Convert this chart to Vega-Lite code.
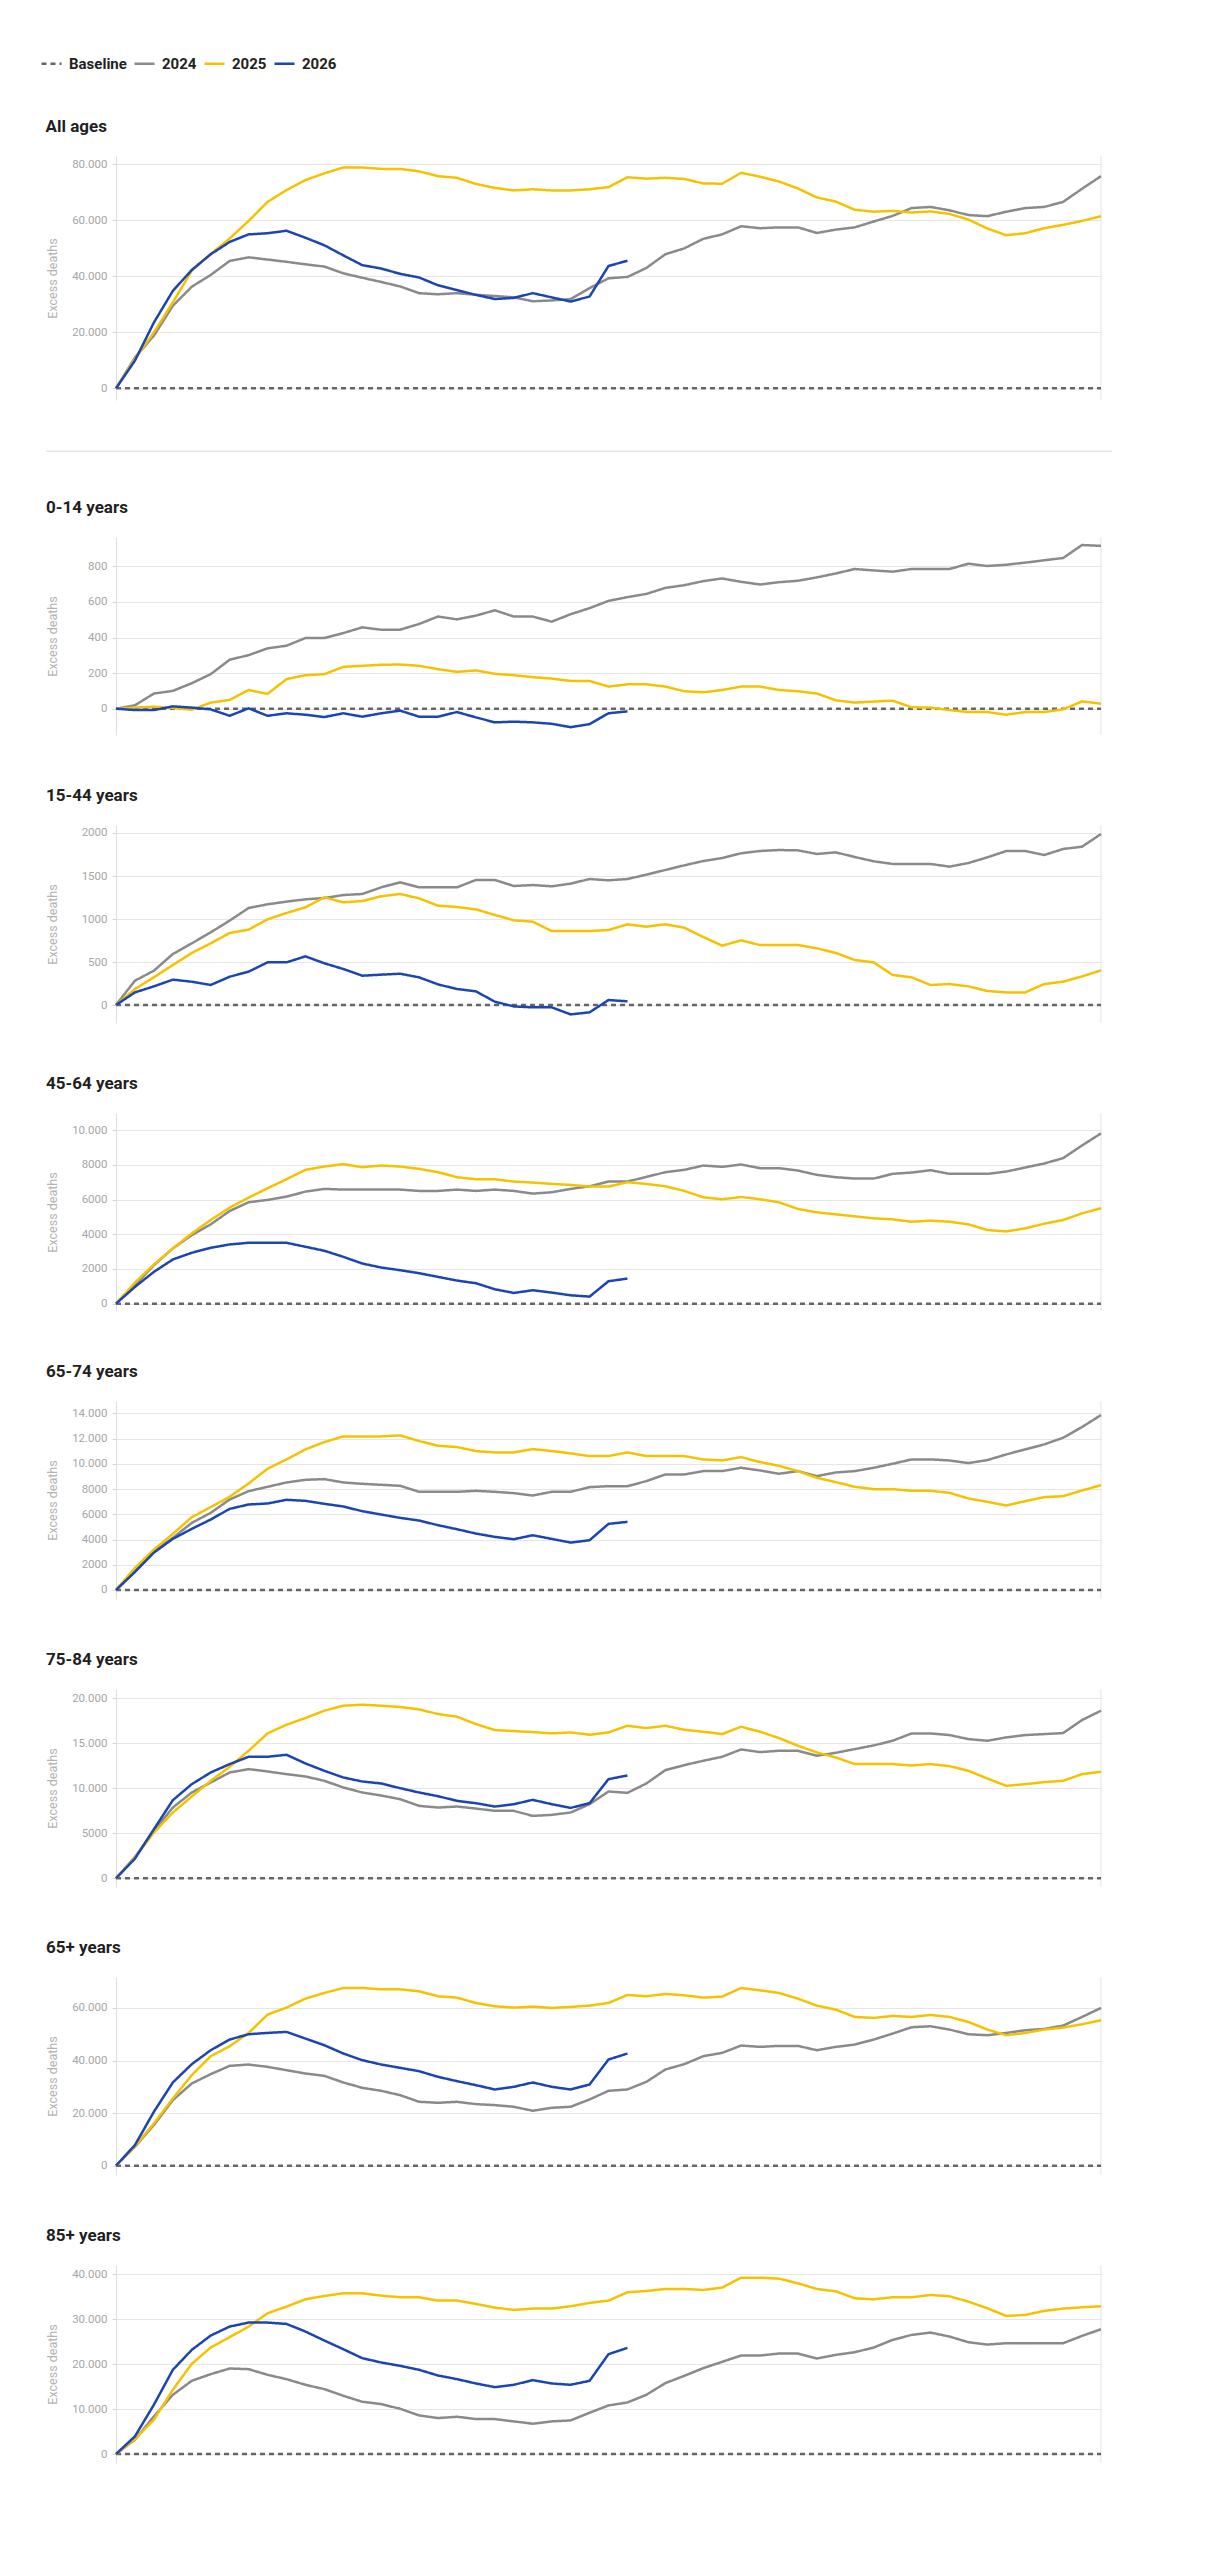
{
  "$schema": "https://vega.github.io/schema/vega-lite/v6.json",
  "background": "white",
  "padding": {"left": 40, "top": 52, "right": 10, "bottom": 10},
  "spacing": 45,
  "config": {
    "font": "Roboto",
    "view": {"stroke": null},
    "title": {"anchor": "start", "frame": "bounds", "fontSize": 17, "fontWeight": "bold", "color": "#1f1f1f", "offset": 20},
    "axis": {"labelColor": "#a6a6a6", "labelFontSize": 11.5, "tickColor": "#d6d6d6", "domainColor": "#dedede", "gridColor": "#e6e6e6", "titleColor": "#b3b3b3", "titleFontWeight": "normal", "titleFontSize": 12.5},
    "axisX": {"grid": false, "tickSize": 5, "labelPadding": 3},
    "axisY": {"tickSize": 4, "labelPadding": 5},
    "line": {"strokeWidth": 2.5},
    "legend": {"orient": "none", "legendX": -76, "legendY": -104, "direction": "horizontal", "title": null, "symbolType": "stroke", "symbolSize": 400, "symbolStrokeWidth": 4, "labelFontSize": 15, "labelFontWeight": "bold", "labelColor": "#222222", "labelOffset": 6, "columnPadding": 2}
  },
  "resolve": {"scale": {"x": "independent", "y": "independent", "color": "shared", "strokeDash": "shared"}, "legend": {"color": "shared", "strokeDash": "shared"}},
  "datasets": {
    "all": [
      {"yr":"Baseline","wk":0,"n":0},{"yr":"Baseline","wk":52,"n":0},
      {"yr":"2024","wk":0,"n":0},{"yr":"2024","wk":1,"n":11000},{"yr":"2024","wk":2,"n":18800},{"yr":"2024","wk":3,"n":29500},{"yr":"2024","wk":4,"n":36300},{"yr":"2024","wk":5,"n":40500},{"yr":"2024","wk":6,"n":45500},{"yr":"2024","wk":7,"n":46800},{"yr":"2024","wk":8,"n":46000},{"yr":"2024","wk":9,"n":45200},{"yr":"2024","wk":10,"n":44300},{"yr":"2024","wk":11,"n":43500},{"yr":"2024","wk":12,"n":41100},{"yr":"2024","wk":13,"n":39500},{"yr":"2024","wk":14,"n":38000},{"yr":"2024","wk":15,"n":36400},{"yr":"2024","wk":16,"n":34000},{"yr":"2024","wk":17,"n":33600},{"yr":"2024","wk":18,"n":34000},{"yr":"2024","wk":19,"n":33400},{"yr":"2024","wk":20,"n":33000},{"yr":"2024","wk":21,"n":32500},{"yr":"2024","wk":22,"n":31100},{"yr":"2024","wk":23,"n":31400},{"yr":"2024","wk":24,"n":31900},{"yr":"2024","wk":25,"n":35800},{"yr":"2024","wk":26,"n":39300},{"yr":"2024","wk":27,"n":39800},{"yr":"2024","wk":28,"n":43000},{"yr":"2024","wk":29,"n":47900},{"yr":"2024","wk":30,"n":50000},{"yr":"2024","wk":31,"n":53400},{"yr":"2024","wk":32,"n":55000},{"yr":"2024","wk":33,"n":57900},{"yr":"2024","wk":34,"n":57200},{"yr":"2024","wk":35,"n":57500},{"yr":"2024","wk":36,"n":57500},{"yr":"2024","wk":37,"n":55500},{"yr":"2024","wk":38,"n":56700},{"yr":"2024","wk":39,"n":57500},{"yr":"2024","wk":40,"n":59600},{"yr":"2024","wk":41,"n":61600},{"yr":"2024","wk":42,"n":64400},{"yr":"2024","wk":43,"n":64800},{"yr":"2024","wk":44,"n":63600},{"yr":"2024","wk":45,"n":61900},{"yr":"2024","wk":46,"n":61500},{"yr":"2024","wk":47,"n":63100},{"yr":"2024","wk":48,"n":64400},{"yr":"2024","wk":49,"n":64800},{"yr":"2024","wk":50,"n":66600},{"yr":"2024","wk":51,"n":71300},{"yr":"2024","wk":52,"n":75800},
      {"yr":"2025","wk":0,"n":0},{"yr":"2025","wk":1,"n":10500},{"yr":"2025","wk":2,"n":20000},{"yr":"2025","wk":3,"n":30700},{"yr":"2025","wk":4,"n":42000},{"yr":"2025","wk":5,"n":48000},{"yr":"2025","wk":6,"n":53500},{"yr":"2025","wk":7,"n":59800},{"yr":"2025","wk":8,"n":66600},{"yr":"2025","wk":9,"n":70800},{"yr":"2025","wk":10,"n":74400},{"yr":"2025","wk":11,"n":76800},{"yr":"2025","wk":12,"n":78900},{"yr":"2025","wk":13,"n":78900},{"yr":"2025","wk":14,"n":78400},{"yr":"2025","wk":15,"n":78400},{"yr":"2025","wk":16,"n":77500},{"yr":"2025","wk":17,"n":75800},{"yr":"2025","wk":18,"n":75200},{"yr":"2025","wk":19,"n":73000},{"yr":"2025","wk":20,"n":71600},{"yr":"2025","wk":21,"n":70700},{"yr":"2025","wk":22,"n":71100},{"yr":"2025","wk":23,"n":70700},{"yr":"2025","wk":24,"n":70700},{"yr":"2025","wk":25,"n":71100},{"yr":"2025","wk":26,"n":71900},{"yr":"2025","wk":27,"n":75400},{"yr":"2025","wk":28,"n":74900},{"yr":"2025","wk":29,"n":75200},{"yr":"2025","wk":30,"n":74800},{"yr":"2025","wk":31,"n":73200},{"yr":"2025","wk":32,"n":73100},{"yr":"2025","wk":33,"n":77000},{"yr":"2025","wk":34,"n":75600},{"yr":"2025","wk":35,"n":73900},{"yr":"2025","wk":36,"n":71400},{"yr":"2025","wk":37,"n":68200},{"yr":"2025","wk":38,"n":66700},{"yr":"2025","wk":39,"n":63800},{"yr":"2025","wk":40,"n":63100},{"yr":"2025","wk":41,"n":63400},{"yr":"2025","wk":42,"n":62800},{"yr":"2025","wk":43,"n":63200},{"yr":"2025","wk":44,"n":62300},{"yr":"2025","wk":45,"n":60300},{"yr":"2025","wk":46,"n":57100},{"yr":"2025","wk":47,"n":54700},{"yr":"2025","wk":48,"n":55400},{"yr":"2025","wk":49,"n":57200},{"yr":"2025","wk":50,"n":58400},{"yr":"2025","wk":51,"n":59800},{"yr":"2025","wk":52,"n":61500},
      {"yr":"2026","wk":0,"n":0},{"yr":"2026","wk":1,"n":9900},{"yr":"2026","wk":2,"n":23500},{"yr":"2026","wk":3,"n":34800},{"yr":"2026","wk":4,"n":42300},{"yr":"2026","wk":5,"n":47900},{"yr":"2026","wk":6,"n":52300},{"yr":"2026","wk":7,"n":55000},{"yr":"2026","wk":8,"n":55400},{"yr":"2026","wk":9,"n":56300},{"yr":"2026","wk":10,"n":53800},{"yr":"2026","wk":11,"n":51100},{"yr":"2026","wk":12,"n":47500},{"yr":"2026","wk":13,"n":44000},{"yr":"2026","wk":14,"n":42800},{"yr":"2026","wk":15,"n":40900},{"yr":"2026","wk":16,"n":39600},{"yr":"2026","wk":17,"n":36800},{"yr":"2026","wk":18,"n":35100},{"yr":"2026","wk":19,"n":33400},{"yr":"2026","wk":20,"n":31900},{"yr":"2026","wk":21,"n":32300},{"yr":"2026","wk":22,"n":34000},{"yr":"2026","wk":23,"n":32500},{"yr":"2026","wk":24,"n":31000},{"yr":"2026","wk":25,"n":32800},{"yr":"2026","wk":26,"n":43700},{"yr":"2026","wk":27,"n":45600}
    ],
    "a0": [
      {"yr":"Baseline","wk":0,"n":0},{"yr":"Baseline","wk":52,"n":0},
      {"yr":"2024","wk":0,"n":0},{"yr":"2024","wk":1,"n":19},{"yr":"2024","wk":2,"n":85},{"yr":"2024","wk":3,"n":100},{"yr":"2024","wk":4,"n":143},{"yr":"2024","wk":5,"n":194},{"yr":"2024","wk":6,"n":275},{"yr":"2024","wk":7,"n":301},{"yr":"2024","wk":8,"n":339},{"yr":"2024","wk":9,"n":354},{"yr":"2024","wk":10,"n":397},{"yr":"2024","wk":11,"n":397},{"yr":"2024","wk":12,"n":425},{"yr":"2024","wk":13,"n":457},{"yr":"2024","wk":14,"n":444},{"yr":"2024","wk":15,"n":444},{"yr":"2024","wk":16,"n":476},{"yr":"2024","wk":17,"n":518},{"yr":"2024","wk":18,"n":502},{"yr":"2024","wk":19,"n":523},{"yr":"2024","wk":20,"n":553},{"yr":"2024","wk":21,"n":518},{"yr":"2024","wk":22,"n":518},{"yr":"2024","wk":23,"n":489},{"yr":"2024","wk":24,"n":531},{"yr":"2024","wk":25,"n":565},{"yr":"2024","wk":26,"n":606},{"yr":"2024","wk":27,"n":627},{"yr":"2024","wk":28,"n":645},{"yr":"2024","wk":29,"n":679},{"yr":"2024","wk":30,"n":694},{"yr":"2024","wk":31,"n":717},{"yr":"2024","wk":32,"n":732},{"yr":"2024","wk":33,"n":713},{"yr":"2024","wk":34,"n":698},{"yr":"2024","wk":35,"n":711},{"yr":"2024","wk":36,"n":719},{"yr":"2024","wk":37,"n":738},{"yr":"2024","wk":38,"n":760},{"yr":"2024","wk":39,"n":785},{"yr":"2024","wk":40,"n":777},{"yr":"2024","wk":41,"n":770},{"yr":"2024","wk":42,"n":785},{"yr":"2024","wk":43,"n":785},{"yr":"2024","wk":44,"n":785},{"yr":"2024","wk":45,"n":815},{"yr":"2024","wk":46,"n":802},{"yr":"2024","wk":47,"n":809},{"yr":"2024","wk":48,"n":821},{"yr":"2024","wk":49,"n":834},{"yr":"2024","wk":50,"n":847},{"yr":"2024","wk":51,"n":920},{"yr":"2024","wk":52,"n":915},
      {"yr":"2025","wk":0,"n":0},{"yr":"2025","wk":1,"n":6},{"yr":"2025","wk":2,"n":11},{"yr":"2025","wk":3,"n":4},{"yr":"2025","wk":4,"n":-6},{"yr":"2025","wk":5,"n":34},{"yr":"2025","wk":6,"n":49},{"yr":"2025","wk":7,"n":105},{"yr":"2025","wk":8,"n":83},{"yr":"2025","wk":9,"n":166},{"yr":"2025","wk":10,"n":188},{"yr":"2025","wk":11,"n":194},{"yr":"2025","wk":12,"n":235},{"yr":"2025","wk":13,"n":241},{"yr":"2025","wk":14,"n":247},{"yr":"2025","wk":15,"n":248},{"yr":"2025","wk":16,"n":241},{"yr":"2025","wk":17,"n":222},{"yr":"2025","wk":18,"n":207},{"yr":"2025","wk":19,"n":215},{"yr":"2025","wk":20,"n":196},{"yr":"2025","wk":21,"n":188},{"yr":"2025","wk":22,"n":177},{"yr":"2025","wk":23,"n":169},{"yr":"2025","wk":24,"n":156},{"yr":"2025","wk":25,"n":156},{"yr":"2025","wk":26,"n":124},{"yr":"2025","wk":27,"n":137},{"yr":"2025","wk":28,"n":137},{"yr":"2025","wk":29,"n":124},{"yr":"2025","wk":30,"n":98},{"yr":"2025","wk":31,"n":92},{"yr":"2025","wk":32,"n":105},{"yr":"2025","wk":33,"n":124},{"yr":"2025","wk":34,"n":124},{"yr":"2025","wk":35,"n":105},{"yr":"2025","wk":36,"n":98},{"yr":"2025","wk":37,"n":85},{"yr":"2025","wk":38,"n":47},{"yr":"2025","wk":39,"n":34},{"yr":"2025","wk":40,"n":40},{"yr":"2025","wk":41,"n":45},{"yr":"2025","wk":42,"n":8},{"yr":"2025","wk":43,"n":6},{"yr":"2025","wk":44,"n":-8},{"yr":"2025","wk":45,"n":-19},{"yr":"2025","wk":46,"n":-19},{"yr":"2025","wk":47,"n":-34},{"yr":"2025","wk":48,"n":-19},{"yr":"2025","wk":49,"n":-19},{"yr":"2025","wk":50,"n":-4},{"yr":"2025","wk":51,"n":41},{"yr":"2025","wk":52,"n":28},
      {"yr":"2026","wk":0,"n":0},{"yr":"2026","wk":1,"n":-8},{"yr":"2026","wk":2,"n":-8},{"yr":"2026","wk":3,"n":13},{"yr":"2026","wk":4,"n":6},{"yr":"2026","wk":5,"n":-4},{"yr":"2026","wk":6,"n":-40},{"yr":"2026","wk":7,"n":2},{"yr":"2026","wk":8,"n":-40},{"yr":"2026","wk":9,"n":-26},{"yr":"2026","wk":10,"n":-34},{"yr":"2026","wk":11,"n":-47},{"yr":"2026","wk":12,"n":-26},{"yr":"2026","wk":13,"n":-45},{"yr":"2026","wk":14,"n":-26},{"yr":"2026","wk":15,"n":-11},{"yr":"2026","wk":16,"n":-45},{"yr":"2026","wk":17,"n":-45},{"yr":"2026","wk":18,"n":-19},{"yr":"2026","wk":19,"n":-49},{"yr":"2026","wk":20,"n":-77},{"yr":"2026","wk":21,"n":-73},{"yr":"2026","wk":22,"n":-77},{"yr":"2026","wk":23,"n":-85},{"yr":"2026","wk":24,"n":-104},{"yr":"2026","wk":25,"n":-87},{"yr":"2026","wk":26,"n":-26},{"yr":"2026","wk":27,"n":-15}
    ],
    "a15": [
      {"yr":"Baseline","wk":0,"n":0},{"yr":"Baseline","wk":52,"n":0},
      {"yr":"2024","wk":0,"n":0},{"yr":"2024","wk":1,"n":283},{"yr":"2024","wk":2,"n":399},{"yr":"2024","wk":3,"n":593},{"yr":"2024","wk":4,"n":717},{"yr":"2024","wk":5,"n":845},{"yr":"2024","wk":6,"n":981},{"yr":"2024","wk":7,"n":1128},{"yr":"2024","wk":8,"n":1171},{"yr":"2024","wk":9,"n":1202},{"yr":"2024","wk":10,"n":1229},{"yr":"2024","wk":11,"n":1244},{"yr":"2024","wk":12,"n":1279},{"yr":"2024","wk":13,"n":1291},{"yr":"2024","wk":14,"n":1368},{"yr":"2024","wk":15,"n":1426},{"yr":"2024","wk":16,"n":1368},{"yr":"2024","wk":17,"n":1368},{"yr":"2024","wk":18,"n":1368},{"yr":"2024","wk":19,"n":1454},{"yr":"2024","wk":20,"n":1454},{"yr":"2024","wk":21,"n":1384},{"yr":"2024","wk":22,"n":1395},{"yr":"2024","wk":23,"n":1380},{"yr":"2024","wk":24,"n":1411},{"yr":"2024","wk":25,"n":1465},{"yr":"2024","wk":26,"n":1450},{"yr":"2024","wk":27,"n":1465},{"yr":"2024","wk":28,"n":1516},{"yr":"2024","wk":29,"n":1570},{"yr":"2024","wk":30,"n":1624},{"yr":"2024","wk":31,"n":1674},{"yr":"2024","wk":32,"n":1709},{"yr":"2024","wk":33,"n":1764},{"yr":"2024","wk":34,"n":1791},{"yr":"2024","wk":35,"n":1802},{"yr":"2024","wk":36,"n":1798},{"yr":"2024","wk":37,"n":1756},{"yr":"2024","wk":38,"n":1775},{"yr":"2024","wk":39,"n":1721},{"yr":"2024","wk":40,"n":1671},{"yr":"2024","wk":41,"n":1640},{"yr":"2024","wk":42,"n":1640},{"yr":"2024","wk":43,"n":1640},{"yr":"2024","wk":44,"n":1609},{"yr":"2024","wk":45,"n":1651},{"yr":"2024","wk":46,"n":1717},{"yr":"2024","wk":47,"n":1791},{"yr":"2024","wk":48,"n":1791},{"yr":"2024","wk":49,"n":1744},{"yr":"2024","wk":50,"n":1814},{"yr":"2024","wk":51,"n":1841},{"yr":"2024","wk":52,"n":1988},
      {"yr":"2025","wk":0,"n":0},{"yr":"2025","wk":1,"n":186},{"yr":"2025","wk":2,"n":322},{"yr":"2025","wk":3,"n":465},{"yr":"2025","wk":4,"n":605},{"yr":"2025","wk":5,"n":717},{"yr":"2025","wk":6,"n":837},{"yr":"2025","wk":7,"n":876},{"yr":"2025","wk":8,"n":996},{"yr":"2025","wk":9,"n":1070},{"yr":"2025","wk":10,"n":1136},{"yr":"2025","wk":11,"n":1252},{"yr":"2025","wk":12,"n":1194},{"yr":"2025","wk":13,"n":1209},{"yr":"2025","wk":14,"n":1264},{"yr":"2025","wk":15,"n":1291},{"yr":"2025","wk":16,"n":1240},{"yr":"2025","wk":17,"n":1155},{"yr":"2025","wk":18,"n":1140},{"yr":"2025","wk":19,"n":1112},{"yr":"2025","wk":20,"n":1047},{"yr":"2025","wk":21,"n":985},{"yr":"2025","wk":22,"n":969},{"yr":"2025","wk":23,"n":860},{"yr":"2025","wk":24,"n":860},{"yr":"2025","wk":25,"n":860},{"yr":"2025","wk":26,"n":872},{"yr":"2025","wk":27,"n":938},{"yr":"2025","wk":28,"n":911},{"yr":"2025","wk":29,"n":938},{"yr":"2025","wk":30,"n":899},{"yr":"2025","wk":31,"n":791},{"yr":"2025","wk":32,"n":690},{"yr":"2025","wk":33,"n":752},{"yr":"2025","wk":34,"n":698},{"yr":"2025","wk":35,"n":698},{"yr":"2025","wk":36,"n":698},{"yr":"2025","wk":37,"n":659},{"yr":"2025","wk":38,"n":605},{"yr":"2025","wk":39,"n":523},{"yr":"2025","wk":40,"n":496},{"yr":"2025","wk":41,"n":349},{"yr":"2025","wk":42,"n":322},{"yr":"2025","wk":43,"n":233},{"yr":"2025","wk":44,"n":244},{"yr":"2025","wk":45,"n":217},{"yr":"2025","wk":46,"n":163},{"yr":"2025","wk":47,"n":147},{"yr":"2025","wk":48,"n":147},{"yr":"2025","wk":49,"n":244},{"yr":"2025","wk":50,"n":271},{"yr":"2025","wk":51,"n":333},{"yr":"2025","wk":52,"n":403},
      {"yr":"2026","wk":0,"n":0},{"yr":"2026","wk":1,"n":147},{"yr":"2026","wk":2,"n":217},{"yr":"2026","wk":3,"n":295},{"yr":"2026","wk":4,"n":271},{"yr":"2026","wk":5,"n":233},{"yr":"2026","wk":6,"n":329},{"yr":"2026","wk":7,"n":388},{"yr":"2026","wk":8,"n":496},{"yr":"2026","wk":9,"n":496},{"yr":"2026","wk":10,"n":566},{"yr":"2026","wk":11,"n":485},{"yr":"2026","wk":12,"n":419},{"yr":"2026","wk":13,"n":341},{"yr":"2026","wk":14,"n":353},{"yr":"2026","wk":15,"n":364},{"yr":"2026","wk":16,"n":322},{"yr":"2026","wk":17,"n":240},{"yr":"2026","wk":18,"n":186},{"yr":"2026","wk":19,"n":159},{"yr":"2026","wk":20,"n":39},{"yr":"2026","wk":21,"n":-16},{"yr":"2026","wk":22,"n":-27},{"yr":"2026","wk":23,"n":-27},{"yr":"2026","wk":24,"n":-109},{"yr":"2026","wk":25,"n":-85},{"yr":"2026","wk":26,"n":58},{"yr":"2026","wk":27,"n":43}
    ],
    "a45": [
      {"yr":"Baseline","wk":0,"n":0},{"yr":"Baseline","wk":52,"n":0},
      {"yr":"2024","wk":0,"n":0},{"yr":"2024","wk":1,"n":1060},{"yr":"2024","wk":2,"n":2216},{"yr":"2024","wk":3,"n":3180},{"yr":"2024","wk":4,"n":3950},{"yr":"2024","wk":5,"n":4567},{"yr":"2024","wk":6,"n":5338},{"yr":"2024","wk":7,"n":5839},{"yr":"2024","wk":8,"n":5974},{"yr":"2024","wk":9,"n":6166},{"yr":"2024","wk":10,"n":6455},{"yr":"2024","wk":11,"n":6610},{"yr":"2024","wk":12,"n":6571},{"yr":"2024","wk":13,"n":6571},{"yr":"2024","wk":14,"n":6571},{"yr":"2024","wk":15,"n":6571},{"yr":"2024","wk":16,"n":6494},{"yr":"2024","wk":17,"n":6494},{"yr":"2024","wk":18,"n":6571},{"yr":"2024","wk":19,"n":6494},{"yr":"2024","wk":20,"n":6571},{"yr":"2024","wk":21,"n":6494},{"yr":"2024","wk":22,"n":6340},{"yr":"2024","wk":23,"n":6417},{"yr":"2024","wk":24,"n":6610},{"yr":"2024","wk":25,"n":6764},{"yr":"2024","wk":26,"n":7034},{"yr":"2024","wk":27,"n":7034},{"yr":"2024","wk":28,"n":7303},{"yr":"2024","wk":29,"n":7573},{"yr":"2024","wk":30,"n":7708},{"yr":"2024","wk":31,"n":7958},{"yr":"2024","wk":32,"n":7881},{"yr":"2024","wk":33,"n":8016},{"yr":"2024","wk":34,"n":7804},{"yr":"2024","wk":35,"n":7804},{"yr":"2024","wk":36,"n":7669},{"yr":"2024","wk":37,"n":7419},{"yr":"2024","wk":38,"n":7284},{"yr":"2024","wk":39,"n":7207},{"yr":"2024","wk":40,"n":7207},{"yr":"2024","wk":41,"n":7477},{"yr":"2024","wk":42,"n":7554},{"yr":"2024","wk":43,"n":7689},{"yr":"2024","wk":44,"n":7477},{"yr":"2024","wk":45,"n":7477},{"yr":"2024","wk":46,"n":7477},{"yr":"2024","wk":47,"n":7612},{"yr":"2024","wk":48,"n":7843},{"yr":"2024","wk":49,"n":8074},{"yr":"2024","wk":50,"n":8382},{"yr":"2024","wk":51,"n":9115},{"yr":"2024","wk":52,"n":9808},
      {"yr":"2025","wk":0,"n":0},{"yr":"2025","wk":1,"n":1214},{"yr":"2025","wk":2,"n":2255},{"yr":"2025","wk":3,"n":3180},{"yr":"2025","wk":4,"n":4047},{"yr":"2025","wk":5,"n":4818},{"yr":"2025","wk":6,"n":5531},{"yr":"2025","wk":7,"n":6109},{"yr":"2025","wk":8,"n":6648},{"yr":"2025","wk":9,"n":7168},{"yr":"2025","wk":10,"n":7708},{"yr":"2025","wk":11,"n":7901},{"yr":"2025","wk":12,"n":8036},{"yr":"2025","wk":13,"n":7862},{"yr":"2025","wk":14,"n":7958},{"yr":"2025","wk":15,"n":7901},{"yr":"2025","wk":16,"n":7766},{"yr":"2025","wk":17,"n":7573},{"yr":"2025","wk":18,"n":7284},{"yr":"2025","wk":19,"n":7168},{"yr":"2025","wk":20,"n":7168},{"yr":"2025","wk":21,"n":7034},{"yr":"2025","wk":22,"n":6976},{"yr":"2025","wk":23,"n":6899},{"yr":"2025","wk":24,"n":6841},{"yr":"2025","wk":25,"n":6745},{"yr":"2025","wk":26,"n":6745},{"yr":"2025","wk":27,"n":6995},{"yr":"2025","wk":28,"n":6899},{"yr":"2025","wk":29,"n":6764},{"yr":"2025","wk":30,"n":6494},{"yr":"2025","wk":31,"n":6128},{"yr":"2025","wk":32,"n":6012},{"yr":"2025","wk":33,"n":6147},{"yr":"2025","wk":34,"n":6012},{"yr":"2025","wk":35,"n":5839},{"yr":"2025","wk":36,"n":5454},{"yr":"2025","wk":37,"n":5261},{"yr":"2025","wk":38,"n":5145},{"yr":"2025","wk":39,"n":5030},{"yr":"2025","wk":40,"n":4914},{"yr":"2025","wk":41,"n":4856},{"yr":"2025","wk":42,"n":4721},{"yr":"2025","wk":43,"n":4779},{"yr":"2025","wk":44,"n":4721},{"yr":"2025","wk":45,"n":4567},{"yr":"2025","wk":46,"n":4240},{"yr":"2025","wk":47,"n":4162},{"yr":"2025","wk":48,"n":4336},{"yr":"2025","wk":49,"n":4606},{"yr":"2025","wk":50,"n":4818},{"yr":"2025","wk":51,"n":5203},{"yr":"2025","wk":52,"n":5492},
      {"yr":"2026","wk":0,"n":0},{"yr":"2026","wk":1,"n":964},{"yr":"2026","wk":2,"n":1831},{"yr":"2026","wk":3,"n":2544},{"yr":"2026","wk":4,"n":2929},{"yr":"2026","wk":5,"n":3218},{"yr":"2026","wk":6,"n":3411},{"yr":"2026","wk":7,"n":3507},{"yr":"2026","wk":8,"n":3507},{"yr":"2026","wk":9,"n":3507},{"yr":"2026","wk":10,"n":3276},{"yr":"2026","wk":11,"n":3045},{"yr":"2026","wk":12,"n":2698},{"yr":"2026","wk":13,"n":2312},{"yr":"2026","wk":14,"n":2081},{"yr":"2026","wk":15,"n":1927},{"yr":"2026","wk":16,"n":1754},{"yr":"2026","wk":17,"n":1542},{"yr":"2026","wk":18,"n":1330},{"yr":"2026","wk":19,"n":1175},{"yr":"2026","wk":20,"n":829},{"yr":"2026","wk":21,"n":617},{"yr":"2026","wk":22,"n":771},{"yr":"2026","wk":23,"n":636},{"yr":"2026","wk":24,"n":482},{"yr":"2026","wk":25,"n":405},{"yr":"2026","wk":26,"n":1291},{"yr":"2026","wk":27,"n":1445}
    ],
    "a65": [
      {"yr":"Baseline","wk":0,"n":0},{"yr":"Baseline","wk":52,"n":0},
      {"yr":"2024","wk":0,"n":0},{"yr":"2024","wk":1,"n":1482},{"yr":"2024","wk":2,"n":3071},{"yr":"2024","wk":3,"n":4129},{"yr":"2024","wk":4,"n":5320},{"yr":"2024","wk":5,"n":6115},{"yr":"2024","wk":6,"n":7173},{"yr":"2024","wk":7,"n":7835},{"yr":"2024","wk":8,"n":8179},{"yr":"2024","wk":9,"n":8523},{"yr":"2024","wk":10,"n":8735},{"yr":"2024","wk":11,"n":8788},{"yr":"2024","wk":12,"n":8523},{"yr":"2024","wk":13,"n":8417},{"yr":"2024","wk":14,"n":8338},{"yr":"2024","wk":15,"n":8259},{"yr":"2024","wk":16,"n":7782},{"yr":"2024","wk":17,"n":7782},{"yr":"2024","wk":18,"n":7782},{"yr":"2024","wk":19,"n":7861},{"yr":"2024","wk":20,"n":7782},{"yr":"2024","wk":21,"n":7676},{"yr":"2024","wk":22,"n":7491},{"yr":"2024","wk":23,"n":7782},{"yr":"2024","wk":24,"n":7782},{"yr":"2024","wk":25,"n":8153},{"yr":"2024","wk":26,"n":8232},{"yr":"2024","wk":27,"n":8232},{"yr":"2024","wk":28,"n":8629},{"yr":"2024","wk":29,"n":9159},{"yr":"2024","wk":30,"n":9159},{"yr":"2024","wk":31,"n":9423},{"yr":"2024","wk":32,"n":9423},{"yr":"2024","wk":33,"n":9688},{"yr":"2024","wk":34,"n":9476},{"yr":"2024","wk":35,"n":9212},{"yr":"2024","wk":36,"n":9423},{"yr":"2024","wk":37,"n":9026},{"yr":"2024","wk":38,"n":9317},{"yr":"2024","wk":39,"n":9423},{"yr":"2024","wk":40,"n":9688},{"yr":"2024","wk":41,"n":10006},{"yr":"2024","wk":42,"n":10350},{"yr":"2024","wk":43,"n":10350},{"yr":"2024","wk":44,"n":10270},{"yr":"2024","wk":45,"n":10059},{"yr":"2024","wk":46,"n":10297},{"yr":"2024","wk":47,"n":10747},{"yr":"2024","wk":48,"n":11144},{"yr":"2024","wk":49,"n":11541},{"yr":"2024","wk":50,"n":12070},{"yr":"2024","wk":51,"n":12917},{"yr":"2024","wk":52,"n":13870},
      {"yr":"2025","wk":0,"n":0},{"yr":"2025","wk":1,"n":1747},{"yr":"2025","wk":2,"n":3203},{"yr":"2025","wk":3,"n":4447},{"yr":"2025","wk":4,"n":5770},{"yr":"2025","wk":5,"n":6565},{"yr":"2025","wk":6,"n":7385},{"yr":"2025","wk":7,"n":8444},{"yr":"2025","wk":8,"n":9609},{"yr":"2025","wk":9,"n":10350},{"yr":"2025","wk":10,"n":11144},{"yr":"2025","wk":11,"n":11726},{"yr":"2025","wk":12,"n":12176},{"yr":"2025","wk":13,"n":12176},{"yr":"2025","wk":14,"n":12176},{"yr":"2025","wk":15,"n":12256},{"yr":"2025","wk":16,"n":11806},{"yr":"2025","wk":17,"n":11435},{"yr":"2025","wk":18,"n":11329},{"yr":"2025","wk":19,"n":11012},{"yr":"2025","wk":20,"n":10906},{"yr":"2025","wk":21,"n":10906},{"yr":"2025","wk":22,"n":11170},{"yr":"2025","wk":23,"n":11012},{"yr":"2025","wk":24,"n":10826},{"yr":"2025","wk":25,"n":10615},{"yr":"2025","wk":26,"n":10615},{"yr":"2025","wk":27,"n":10906},{"yr":"2025","wk":28,"n":10615},{"yr":"2025","wk":29,"n":10615},{"yr":"2025","wk":30,"n":10615},{"yr":"2025","wk":31,"n":10350},{"yr":"2025","wk":32,"n":10270},{"yr":"2025","wk":33,"n":10535},{"yr":"2025","wk":34,"n":10138},{"yr":"2025","wk":35,"n":9847},{"yr":"2025","wk":36,"n":9423},{"yr":"2025","wk":37,"n":8894},{"yr":"2025","wk":38,"n":8550},{"yr":"2025","wk":39,"n":8179},{"yr":"2025","wk":40,"n":7994},{"yr":"2025","wk":41,"n":7994},{"yr":"2025","wk":42,"n":7861},{"yr":"2025","wk":43,"n":7861},{"yr":"2025","wk":44,"n":7702},{"yr":"2025","wk":45,"n":7253},{"yr":"2025","wk":46,"n":6988},{"yr":"2025","wk":47,"n":6697},{"yr":"2025","wk":48,"n":7041},{"yr":"2025","wk":49,"n":7359},{"yr":"2025","wk":50,"n":7438},{"yr":"2025","wk":51,"n":7888},{"yr":"2025","wk":52,"n":8312},
      {"yr":"2026","wk":0,"n":0},{"yr":"2026","wk":1,"n":1429},{"yr":"2026","wk":2,"n":2965},{"yr":"2026","wk":3,"n":4050},{"yr":"2026","wk":4,"n":4844},{"yr":"2026","wk":5,"n":5585},{"yr":"2026","wk":6,"n":6432},{"yr":"2026","wk":7,"n":6776},{"yr":"2026","wk":8,"n":6856},{"yr":"2026","wk":9,"n":7147},{"yr":"2026","wk":10,"n":7067},{"yr":"2026","wk":11,"n":6829},{"yr":"2026","wk":12,"n":6618},{"yr":"2026","wk":13,"n":6247},{"yr":"2026","wk":14,"n":5982},{"yr":"2026","wk":15,"n":5718},{"yr":"2026","wk":16,"n":5506},{"yr":"2026","wk":17,"n":5135},{"yr":"2026","wk":18,"n":4818},{"yr":"2026","wk":19,"n":4473},{"yr":"2026","wk":20,"n":4209},{"yr":"2026","wk":21,"n":4023},{"yr":"2026","wk":22,"n":4341},{"yr":"2026","wk":23,"n":4050},{"yr":"2026","wk":24,"n":3759},{"yr":"2026","wk":25,"n":3944},{"yr":"2026","wk":26,"n":5241},{"yr":"2026","wk":27,"n":5400}
    ],
    "a75": [
      {"yr":"Baseline","wk":0,"n":0},{"yr":"Baseline","wk":52,"n":0},
      {"yr":"2024","wk":0,"n":0},{"yr":"2024","wk":1,"n":2370},{"yr":"2024","wk":2,"n":5260},{"yr":"2024","wk":3,"n":7852},{"yr":"2024","wk":4,"n":9519},{"yr":"2024","wk":5,"n":10630},{"yr":"2024","wk":6,"n":11741},{"yr":"2024","wk":7,"n":12111},{"yr":"2024","wk":8,"n":11852},{"yr":"2024","wk":9,"n":11556},{"yr":"2024","wk":10,"n":11297},{"yr":"2024","wk":11,"n":10815},{"yr":"2024","wk":12,"n":10074},{"yr":"2024","wk":13,"n":9519},{"yr":"2024","wk":14,"n":9186},{"yr":"2024","wk":15,"n":8778},{"yr":"2024","wk":16,"n":8037},{"yr":"2024","wk":17,"n":7852},{"yr":"2024","wk":18,"n":7963},{"yr":"2024","wk":19,"n":7741},{"yr":"2024","wk":20,"n":7482},{"yr":"2024","wk":21,"n":7482},{"yr":"2024","wk":22,"n":6926},{"yr":"2024","wk":23,"n":7037},{"yr":"2024","wk":24,"n":7297},{"yr":"2024","wk":25,"n":8222},{"yr":"2024","wk":26,"n":9630},{"yr":"2024","wk":27,"n":9482},{"yr":"2024","wk":28,"n":10519},{"yr":"2024","wk":29,"n":12000},{"yr":"2024","wk":30,"n":12556},{"yr":"2024","wk":31,"n":13037},{"yr":"2024","wk":32,"n":13482},{"yr":"2024","wk":33,"n":14296},{"yr":"2024","wk":34,"n":14000},{"yr":"2024","wk":35,"n":14148},{"yr":"2024","wk":36,"n":14148},{"yr":"2024","wk":37,"n":13593},{"yr":"2024","wk":38,"n":13926},{"yr":"2024","wk":39,"n":14333},{"yr":"2024","wk":40,"n":14741},{"yr":"2024","wk":41,"n":15259},{"yr":"2024","wk":42,"n":16074},{"yr":"2024","wk":43,"n":16074},{"yr":"2024","wk":44,"n":15889},{"yr":"2024","wk":45,"n":15444},{"yr":"2024","wk":46,"n":15259},{"yr":"2024","wk":47,"n":15630},{"yr":"2024","wk":48,"n":15889},{"yr":"2024","wk":49,"n":16000},{"yr":"2024","wk":50,"n":16111},{"yr":"2024","wk":51,"n":17556},{"yr":"2024","wk":52,"n":18593},
      {"yr":"2025","wk":0,"n":0},{"yr":"2025","wk":1,"n":2296},{"yr":"2025","wk":2,"n":5074},{"yr":"2025","wk":3,"n":7297},{"yr":"2025","wk":4,"n":9074},{"yr":"2025","wk":5,"n":10815},{"yr":"2025","wk":6,"n":12370},{"yr":"2025","wk":7,"n":14148},{"yr":"2025","wk":8,"n":16074},{"yr":"2025","wk":9,"n":17037},{"yr":"2025","wk":10,"n":17778},{"yr":"2025","wk":11,"n":18593},{"yr":"2025","wk":12,"n":19148},{"yr":"2025","wk":13,"n":19259},{"yr":"2025","wk":14,"n":19148},{"yr":"2025","wk":15,"n":19000},{"yr":"2025","wk":16,"n":18741},{"yr":"2025","wk":17,"n":18222},{"yr":"2025","wk":18,"n":17926},{"yr":"2025","wk":19,"n":17111},{"yr":"2025","wk":20,"n":16444},{"yr":"2025","wk":21,"n":16333},{"yr":"2025","wk":22,"n":16222},{"yr":"2025","wk":23,"n":16074},{"yr":"2025","wk":24,"n":16185},{"yr":"2025","wk":25,"n":15926},{"yr":"2025","wk":26,"n":16185},{"yr":"2025","wk":27,"n":16926},{"yr":"2025","wk":28,"n":16667},{"yr":"2025","wk":29,"n":16926},{"yr":"2025","wk":30,"n":16481},{"yr":"2025","wk":31,"n":16259},{"yr":"2025","wk":32,"n":16000},{"yr":"2025","wk":33,"n":16815},{"yr":"2025","wk":34,"n":16259},{"yr":"2025","wk":35,"n":15556},{"yr":"2025","wk":36,"n":14704},{"yr":"2025","wk":37,"n":13963},{"yr":"2025","wk":38,"n":13407},{"yr":"2025","wk":39,"n":12667},{"yr":"2025","wk":40,"n":12667},{"yr":"2025","wk":41,"n":12667},{"yr":"2025","wk":42,"n":12519},{"yr":"2025","wk":43,"n":12667},{"yr":"2025","wk":44,"n":12444},{"yr":"2025","wk":45,"n":11926},{"yr":"2025","wk":46,"n":11074},{"yr":"2025","wk":47,"n":10259},{"yr":"2025","wk":48,"n":10444},{"yr":"2025","wk":49,"n":10667},{"yr":"2025","wk":50,"n":10815},{"yr":"2025","wk":51,"n":11556},{"yr":"2025","wk":52,"n":11815},
      {"yr":"2026","wk":0,"n":0},{"yr":"2026","wk":1,"n":2185},{"yr":"2026","wk":2,"n":5444},{"yr":"2026","wk":3,"n":8667},{"yr":"2026","wk":4,"n":10444},{"yr":"2026","wk":5,"n":11741},{"yr":"2026","wk":6,"n":12667},{"yr":"2026","wk":7,"n":13482},{"yr":"2026","wk":8,"n":13482},{"yr":"2026","wk":9,"n":13704},{"yr":"2026","wk":10,"n":12741},{"yr":"2026","wk":11,"n":11926},{"yr":"2026","wk":12,"n":11185},{"yr":"2026","wk":13,"n":10741},{"yr":"2026","wk":14,"n":10519},{"yr":"2026","wk":15,"n":10000},{"yr":"2026","wk":16,"n":9519},{"yr":"2026","wk":17,"n":9111},{"yr":"2026","wk":18,"n":8593},{"yr":"2026","wk":19,"n":8333},{"yr":"2026","wk":20,"n":7963},{"yr":"2026","wk":21,"n":8222},{"yr":"2026","wk":22,"n":8704},{"yr":"2026","wk":23,"n":8222},{"yr":"2026","wk":24,"n":7815},{"yr":"2026","wk":25,"n":8333},{"yr":"2026","wk":26,"n":11000},{"yr":"2026","wk":27,"n":11407}
    ],
    "a65p": [
      {"yr":"Baseline","wk":0,"n":0},{"yr":"Baseline","wk":52,"n":0},
      {"yr":"2024","wk":0,"n":0},{"yr":"2024","wk":1,"n":7215},{"yr":"2024","wk":2,"n":15443},{"yr":"2024","wk":3,"n":24937},{"yr":"2024","wk":4,"n":31266},{"yr":"2024","wk":5,"n":34810},{"yr":"2024","wk":6,"n":37975},{"yr":"2024","wk":7,"n":38481},{"yr":"2024","wk":8,"n":37595},{"yr":"2024","wk":9,"n":36329},{"yr":"2024","wk":10,"n":35063},{"yr":"2024","wk":11,"n":34177},{"yr":"2024","wk":12,"n":31646},{"yr":"2024","wk":13,"n":29620},{"yr":"2024","wk":14,"n":28481},{"yr":"2024","wk":15,"n":26835},{"yr":"2024","wk":16,"n":24304},{"yr":"2024","wk":17,"n":23924},{"yr":"2024","wk":18,"n":24304},{"yr":"2024","wk":19,"n":23418},{"yr":"2024","wk":20,"n":23038},{"yr":"2024","wk":21,"n":22405},{"yr":"2024","wk":22,"n":20886},{"yr":"2024","wk":23,"n":22025},{"yr":"2024","wk":24,"n":22405},{"yr":"2024","wk":25,"n":25190},{"yr":"2024","wk":26,"n":28481},{"yr":"2024","wk":27,"n":28987},{"yr":"2024","wk":28,"n":31899},{"yr":"2024","wk":29,"n":36582},{"yr":"2024","wk":30,"n":38608},{"yr":"2024","wk":31,"n":41646},{"yr":"2024","wk":32,"n":42911},{"yr":"2024","wk":33,"n":45696},{"yr":"2024","wk":34,"n":45190},{"yr":"2024","wk":35,"n":45570},{"yr":"2024","wk":36,"n":45570},{"yr":"2024","wk":37,"n":43924},{"yr":"2024","wk":38,"n":45190},{"yr":"2024","wk":39,"n":46076},{"yr":"2024","wk":40,"n":47975},{"yr":"2024","wk":41,"n":50253},{"yr":"2024","wk":42,"n":52658},{"yr":"2024","wk":43,"n":53038},{"yr":"2024","wk":44,"n":51772},{"yr":"2024","wk":45,"n":50000},{"yr":"2024","wk":46,"n":49620},{"yr":"2024","wk":47,"n":50506},{"yr":"2024","wk":48,"n":51519},{"yr":"2024","wk":49,"n":52025},{"yr":"2024","wk":50,"n":53291},{"yr":"2024","wk":51,"n":56582},{"yr":"2024","wk":52,"n":60000},
      {"yr":"2025","wk":0,"n":0},{"yr":"2025","wk":1,"n":7468},{"yr":"2025","wk":2,"n":16076},{"yr":"2025","wk":3,"n":25570},{"yr":"2025","wk":4,"n":34430},{"yr":"2025","wk":5,"n":41646},{"yr":"2025","wk":6,"n":45443},{"yr":"2025","wk":7,"n":50506},{"yr":"2025","wk":8,"n":57468},{"yr":"2025","wk":9,"n":60127},{"yr":"2025","wk":10,"n":63544},{"yr":"2025","wk":11,"n":65696},{"yr":"2025","wk":12,"n":67595},{"yr":"2025","wk":13,"n":67595},{"yr":"2025","wk":14,"n":67089},{"yr":"2025","wk":15,"n":67089},{"yr":"2025","wk":16,"n":66329},{"yr":"2025","wk":17,"n":64430},{"yr":"2025","wk":18,"n":63924},{"yr":"2025","wk":19,"n":61899},{"yr":"2025","wk":20,"n":60633},{"yr":"2025","wk":21,"n":60127},{"yr":"2025","wk":22,"n":60506},{"yr":"2025","wk":23,"n":60000},{"yr":"2025","wk":24,"n":60380},{"yr":"2025","wk":25,"n":60886},{"yr":"2025","wk":26,"n":61899},{"yr":"2025","wk":27,"n":64937},{"yr":"2025","wk":28,"n":64430},{"yr":"2025","wk":29,"n":65316},{"yr":"2025","wk":30,"n":64810},{"yr":"2025","wk":31,"n":63924},{"yr":"2025","wk":32,"n":64304},{"yr":"2025","wk":33,"n":67595},{"yr":"2025","wk":34,"n":66709},{"yr":"2025","wk":35,"n":65696},{"yr":"2025","wk":36,"n":63544},{"yr":"2025","wk":37,"n":60886},{"yr":"2025","wk":38,"n":59367},{"yr":"2025","wk":39,"n":56582},{"yr":"2025","wk":40,"n":56203},{"yr":"2025","wk":41,"n":56962},{"yr":"2025","wk":42,"n":56582},{"yr":"2025","wk":43,"n":57342},{"yr":"2025","wk":44,"n":56582},{"yr":"2025","wk":45,"n":54684},{"yr":"2025","wk":46,"n":51772},{"yr":"2025","wk":47,"n":49620},{"yr":"2025","wk":48,"n":50506},{"yr":"2025","wk":49,"n":51772},{"yr":"2025","wk":50,"n":52532},{"yr":"2025","wk":51,"n":53797},{"yr":"2025","wk":52,"n":55316},
      {"yr":"2026","wk":0,"n":0},{"yr":"2026","wk":1,"n":7848},{"yr":"2026","wk":2,"n":20506},{"yr":"2026","wk":3,"n":31646},{"yr":"2026","wk":4,"n":38608},{"yr":"2026","wk":5,"n":43924},{"yr":"2026","wk":6,"n":47975},{"yr":"2026","wk":7,"n":50000},{"yr":"2026","wk":8,"n":50506},{"yr":"2026","wk":9,"n":50886},{"yr":"2026","wk":10,"n":48354},{"yr":"2026","wk":11,"n":45823},{"yr":"2026","wk":12,"n":42658},{"yr":"2026","wk":13,"n":40127},{"yr":"2026","wk":14,"n":38481},{"yr":"2026","wk":15,"n":37215},{"yr":"2026","wk":16,"n":35949},{"yr":"2026","wk":17,"n":33797},{"yr":"2026","wk":18,"n":32152},{"yr":"2026","wk":19,"n":30633},{"yr":"2026","wk":20,"n":28987},{"yr":"2026","wk":21,"n":30000},{"yr":"2026","wk":22,"n":31646},{"yr":"2026","wk":23,"n":30000},{"yr":"2026","wk":24,"n":28987},{"yr":"2026","wk":25,"n":30886},{"yr":"2026","wk":26,"n":40380},{"yr":"2026","wk":27,"n":42658}
    ],
    "a85": [
      {"yr":"Baseline","wk":0,"n":0},{"yr":"Baseline","wk":52,"n":0},
      {"yr":"2024","wk":0,"n":0},{"yr":"2024","wk":1,"n":3179},{"yr":"2024","wk":2,"n":8355},{"yr":"2024","wk":3,"n":13161},{"yr":"2024","wk":4,"n":16267},{"yr":"2024","wk":5,"n":17746},{"yr":"2024","wk":6,"n":19003},{"yr":"2024","wk":7,"n":18855},{"yr":"2024","wk":8,"n":17598},{"yr":"2024","wk":9,"n":16637},{"yr":"2024","wk":10,"n":15380},{"yr":"2024","wk":11,"n":14418},{"yr":"2024","wk":12,"n":12940},{"yr":"2024","wk":13,"n":11609},{"yr":"2024","wk":14,"n":11091},{"yr":"2024","wk":15,"n":10056},{"yr":"2024","wk":16,"n":8577},{"yr":"2024","wk":17,"n":7986},{"yr":"2024","wk":18,"n":8281},{"yr":"2024","wk":19,"n":7764},{"yr":"2024","wk":20,"n":7764},{"yr":"2024","wk":21,"n":7246},{"yr":"2024","wk":22,"n":6729},{"yr":"2024","wk":23,"n":7246},{"yr":"2024","wk":24,"n":7468},{"yr":"2024","wk":25,"n":9169},{"yr":"2024","wk":26,"n":10795},{"yr":"2024","wk":27,"n":11461},{"yr":"2024","wk":28,"n":13161},{"yr":"2024","wk":29,"n":15749},{"yr":"2024","wk":30,"n":17376},{"yr":"2024","wk":31,"n":19076},{"yr":"2024","wk":32,"n":20481},{"yr":"2024","wk":33,"n":21886},{"yr":"2024","wk":34,"n":21886},{"yr":"2024","wk":35,"n":22330},{"yr":"2024","wk":36,"n":22330},{"yr":"2024","wk":37,"n":21221},{"yr":"2024","wk":38,"n":22034},{"yr":"2024","wk":39,"n":22626},{"yr":"2024","wk":40,"n":23661},{"yr":"2024","wk":41,"n":25361},{"yr":"2024","wk":42,"n":26471},{"yr":"2024","wk":43,"n":26988},{"yr":"2024","wk":44,"n":26101},{"yr":"2024","wk":45,"n":24844},{"yr":"2024","wk":46,"n":24326},{"yr":"2024","wk":47,"n":24622},{"yr":"2024","wk":48,"n":24622},{"yr":"2024","wk":49,"n":24622},{"yr":"2024","wk":50,"n":24622},{"yr":"2024","wk":51,"n":26249},{"yr":"2024","wk":52,"n":27727},
      {"yr":"2025","wk":0,"n":0},{"yr":"2025","wk":1,"n":3327},{"yr":"2025","wk":2,"n":7616},{"yr":"2025","wk":3,"n":14270},{"yr":"2025","wk":4,"n":20037},{"yr":"2025","wk":5,"n":23661},{"yr":"2025","wk":6,"n":25953},{"yr":"2025","wk":7,"n":28319},{"yr":"2025","wk":8,"n":31277},{"yr":"2025","wk":9,"n":32755},{"yr":"2025","wk":10,"n":34382},{"yr":"2025","wk":11,"n":35122},{"yr":"2025","wk":12,"n":35713},{"yr":"2025","wk":13,"n":35713},{"yr":"2025","wk":14,"n":35196},{"yr":"2025","wk":15,"n":34826},{"yr":"2025","wk":16,"n":34826},{"yr":"2025","wk":17,"n":34086},{"yr":"2025","wk":18,"n":34086},{"yr":"2025","wk":19,"n":33347},{"yr":"2025","wk":20,"n":32534},{"yr":"2025","wk":21,"n":32016},{"yr":"2025","wk":22,"n":32312},{"yr":"2025","wk":23,"n":32312},{"yr":"2025","wk":24,"n":32829},{"yr":"2025","wk":25,"n":33569},{"yr":"2025","wk":26,"n":34086},{"yr":"2025","wk":27,"n":35935},{"yr":"2025","wk":28,"n":36231},{"yr":"2025","wk":29,"n":36674},{"yr":"2025","wk":30,"n":36674},{"yr":"2025","wk":31,"n":36452},{"yr":"2025","wk":32,"n":36970},{"yr":"2025","wk":33,"n":39188},{"yr":"2025","wk":34,"n":39188},{"yr":"2025","wk":35,"n":38966},{"yr":"2025","wk":36,"n":37931},{"yr":"2025","wk":37,"n":36674},{"yr":"2025","wk":38,"n":36157},{"yr":"2025","wk":39,"n":34604},{"yr":"2025","wk":40,"n":34382},{"yr":"2025","wk":41,"n":34826},{"yr":"2025","wk":42,"n":34826},{"yr":"2025","wk":43,"n":35344},{"yr":"2025","wk":44,"n":35048},{"yr":"2025","wk":45,"n":33865},{"yr":"2025","wk":46,"n":32386},{"yr":"2025","wk":47,"n":30685},{"yr":"2025","wk":48,"n":30907},{"yr":"2025","wk":49,"n":31794},{"yr":"2025","wk":50,"n":32312},{"yr":"2025","wk":51,"n":32608},{"yr":"2025","wk":52,"n":32829},
      {"yr":"2026","wk":0,"n":0},{"yr":"2026","wk":1,"n":3919},{"yr":"2026","wk":2,"n":10943},{"yr":"2026","wk":3,"n":18707},{"yr":"2026","wk":4,"n":23143},{"yr":"2026","wk":5,"n":26323},{"yr":"2026","wk":6,"n":28319},{"yr":"2026","wk":7,"n":29206},{"yr":"2026","wk":8,"n":29206},{"yr":"2026","wk":9,"n":28910},{"yr":"2026","wk":10,"n":27210},{"yr":"2026","wk":11,"n":25213},{"yr":"2026","wk":12,"n":23291},{"yr":"2026","wk":13,"n":21295},{"yr":"2026","wk":14,"n":20334},{"yr":"2026","wk":15,"n":19594},{"yr":"2026","wk":16,"n":18707},{"yr":"2026","wk":17,"n":17450},{"yr":"2026","wk":18,"n":16637},{"yr":"2026","wk":19,"n":15675},{"yr":"2026","wk":20,"n":14862},{"yr":"2026","wk":21,"n":15380},{"yr":"2026","wk":22,"n":16415},{"yr":"2026","wk":23,"n":15675},{"yr":"2026","wk":24,"n":15380},{"yr":"2026","wk":25,"n":16267},{"yr":"2026","wk":26,"n":22182},{"yr":"2026","wk":27,"n":23587}
    ]
  },
  "vconcat": [
    {
      "title": "All ages", "width": 985, "height": 244, "data": {"name": "all"},
      "layer": [
        {"data": {"values": [{}]}, "mark": {"type": "rule", "color": "#e3e3e3"}, "encoding": {"x": {"datum": 52, "type": "quantitative", "axis": null}}},
        {"mark": "line", "encoding": {
          "x": {"field": "wk", "type": "quantitative", "scale": {"domain": [0, 52], "nice": false}, "axis": {"title": null, "values": [0,5,10,15,20,25,30,35,40,45,50]}},
          "y": {"field": "n", "type": "quantitative", "scale": {"domain": [-4170, 83000], "nice": false, "zero": false}, "axis": {"title": "Excess deaths", "titleX": -57, "values": [0,20000,40000,60000,80000], "labelExpr": "abs(datum.value) >= 10000 ? replace(format(datum.value, ','), ',', '.') : format(datum.value, 'd')"}},
          "color": {"field": "yr", "type": "nominal", "scale": {"domain": ["Baseline","2024","2025","2026"], "range": ["#666666","#8a8a8a","#f5c200","#1c45b2"]}, "legend": {"encode": {"symbols": {"update": {"strokeDash": {"signal": "datum.value === 'Baseline' ? [2.5, 3] : [1, 0]"}, "strokeWidth": {"signal": "datum.value === 'Baseline' ? 2.5 : 4"}}}}}},
          "strokeDash": {"field": "yr", "type": "nominal", "scale": {"domain": ["Baseline","2024","2025","2026"], "range": [[5,4],[1,0],[1,0],[1,0]]}}
        }},
        {"data": {"values": [{}]}, "mark": {"type": "rule", "color": "#e6e6e6", "strokeWidth": 1.5}, "encoding": {"x": {"datum": -3.68, "type": "quantitative"}, "x2": {"datum": 52.6}, "y": {"datum": -22497, "type": "quantitative"}}}
      ]
    },
    {
      "spacing": 50,
      "resolve": {"scale": {"x": "independent", "y": "independent", "color": "shared", "strokeDash": "shared"}, "legend": {"color": "shared", "strokeDash": "shared"}},
      "vconcat": [
        {
          "title": "0-14 years", "width": 985, "height": 198, "data": {"name": "a0"},
          "layer": [
            {"data": {"values": [{}]}, "mark": {"type": "rule", "color": "#e3e3e3"}, "encoding": {"x": {"datum": 52, "type": "quantitative", "axis": null}}},
            {"mark": "line", "encoding": {
              "x": {"field": "wk", "type": "quantitative", "scale": {"domain": [0, 52], "nice": false}, "axis": {"title": null, "values": [0,5,10,15,20,25,30,35,40,45,50]}},
              "y": {"field": "n", "type": "quantitative", "scale": {"domain": [-148, 965], "nice": false, "zero": false}, "axis": {"title": "Excess deaths", "titleX": -57, "values": [0,200,400,600,800], "labelExpr": "abs(datum.value) >= 10000 ? replace(format(datum.value, ','), ',', '.') : format(datum.value, 'd')"}},
              "color": {"field": "yr", "type": "nominal", "scale": {"domain": ["Baseline","2024","2025","2026"], "range": ["#666666","#8a8a8a","#f5c200","#1c45b2"]}},
              "strokeDash": {"field": "yr", "type": "nominal", "scale": {"domain": ["Baseline","2024","2025","2026"], "range": [[5,4],[1,0],[1,0],[1,0]]}}
            }}
          ]
        },
        {
          "title": "15-44 years", "width": 985, "height": 198, "data": {"name": "a15"},
          "layer": [
            {"data": {"values": [{}]}, "mark": {"type": "rule", "color": "#e3e3e3"}, "encoding": {"x": {"datum": 52, "type": "quantitative", "axis": null}}},
            {"mark": "line", "encoding": {
              "x": {"field": "wk", "type": "quantitative", "scale": {"domain": [0, 52], "nice": false}, "axis": {"title": null, "values": [0,5,10,15,20,25,30,35,40,45,50]}},
              "y": {"field": "n", "type": "quantitative", "scale": {"domain": [-209, 2093], "nice": false, "zero": false}, "axis": {"title": "Excess deaths", "titleX": -57, "values": [0,500,1000,1500,2000], "labelExpr": "abs(datum.value) >= 10000 ? replace(format(datum.value, ','), ',', '.') : format(datum.value, 'd')"}},
              "color": {"field": "yr", "type": "nominal", "scale": {"domain": ["Baseline","2024","2025","2026"], "range": ["#666666","#8a8a8a","#f5c200","#1c45b2"]}},
              "strokeDash": {"field": "yr", "type": "nominal", "scale": {"domain": ["Baseline","2024","2025","2026"], "range": [[5,4],[1,0],[1,0],[1,0]]}}
            }}
          ]
        },
        {
          "title": "45-64 years", "width": 985, "height": 198, "data": {"name": "a45"},
          "layer": [
            {"data": {"values": [{}]}, "mark": {"type": "rule", "color": "#e3e3e3"}, "encoding": {"x": {"datum": 52, "type": "quantitative", "axis": null}}},
            {"mark": "line", "encoding": {
              "x": {"field": "wk", "type": "quantitative", "scale": {"domain": [0, 52], "nice": false}, "axis": {"title": null, "values": [0,5,10,15,20,25,30,35,40,45,50]}},
              "y": {"field": "n", "type": "quantitative", "scale": {"domain": [-424, 10984], "nice": false, "zero": false}, "axis": {"title": "Excess deaths", "titleX": -57, "values": [0,2000,4000,6000,8000,10000], "labelExpr": "abs(datum.value) >= 10000 ? replace(format(datum.value, ','), ',', '.') : format(datum.value, 'd')"}},
              "color": {"field": "yr", "type": "nominal", "scale": {"domain": ["Baseline","2024","2025","2026"], "range": ["#666666","#8a8a8a","#f5c200","#1c45b2"]}},
              "strokeDash": {"field": "yr", "type": "nominal", "scale": {"domain": ["Baseline","2024","2025","2026"], "range": [[5,4],[1,0],[1,0],[1,0]]}}
            }}
          ]
        },
        {
          "title": "65-74 years", "width": 985, "height": 198, "data": {"name": "a65"},
          "layer": [
            {"data": {"values": [{}]}, "mark": {"type": "rule", "color": "#e3e3e3"}, "encoding": {"x": {"datum": 52, "type": "quantitative", "axis": null}}},
            {"mark": "line", "encoding": {
              "x": {"field": "wk", "type": "quantitative", "scale": {"domain": [0, 52], "nice": false}, "axis": {"title": null, "values": [0,5,10,15,20,25,30,35,40,45,50]}},
              "y": {"field": "n", "type": "quantitative", "scale": {"domain": [-715, 14982], "nice": false, "zero": false}, "axis": {"title": "Excess deaths", "titleX": -57, "values": [0,2000,4000,6000,8000,10000,12000,14000], "labelExpr": "abs(datum.value) >= 10000 ? replace(format(datum.value, ','), ',', '.') : format(datum.value, 'd')"}},
              "color": {"field": "yr", "type": "nominal", "scale": {"domain": ["Baseline","2024","2025","2026"], "range": ["#666666","#8a8a8a","#f5c200","#1c45b2"]}},
              "strokeDash": {"field": "yr", "type": "nominal", "scale": {"domain": ["Baseline","2024","2025","2026"], "range": [[5,4],[1,0],[1,0],[1,0]]}}
            }}
          ]
        },
        {
          "title": "75-84 years", "width": 985, "height": 198, "data": {"name": "a75"},
          "layer": [
            {"data": {"values": [{}]}, "mark": {"type": "rule", "color": "#e3e3e3"}, "encoding": {"x": {"datum": 52, "type": "quantitative", "axis": null}}},
            {"mark": "line", "encoding": {
              "x": {"field": "wk", "type": "quantitative", "scale": {"domain": [0, 52], "nice": false}, "axis": {"title": null, "values": [0,5,10,15,20,25,30,35,40,45,50]}},
              "y": {"field": "n", "type": "quantitative", "scale": {"domain": [-963, 21000], "nice": false, "zero": false}, "axis": {"title": "Excess deaths", "titleX": -57, "values": [0,5000,10000,15000,20000], "labelExpr": "abs(datum.value) >= 10000 ? replace(format(datum.value, ','), ',', '.') : format(datum.value, 'd')"}},
              "color": {"field": "yr", "type": "nominal", "scale": {"domain": ["Baseline","2024","2025","2026"], "range": ["#666666","#8a8a8a","#f5c200","#1c45b2"]}},
              "strokeDash": {"field": "yr", "type": "nominal", "scale": {"domain": ["Baseline","2024","2025","2026"], "range": [[5,4],[1,0],[1,0],[1,0]]}}
            }}
          ]
        },
        {
          "title": "65+ years", "width": 985, "height": 198, "data": {"name": "a65p"},
          "layer": [
            {"data": {"values": [{}]}, "mark": {"type": "rule", "color": "#e3e3e3"}, "encoding": {"x": {"datum": 52, "type": "quantitative", "axis": null}}},
            {"mark": "line", "encoding": {
              "x": {"field": "wk", "type": "quantitative", "scale": {"domain": [0, 52], "nice": false}, "axis": {"title": null, "values": [0,5,10,15,20,25,30,35,40,45,50]}},
              "y": {"field": "n", "type": "quantitative", "scale": {"domain": [-3544, 71772], "nice": false, "zero": false}, "axis": {"title": "Excess deaths", "titleX": -57, "values": [0,20000,40000,60000], "labelExpr": "abs(datum.value) >= 10000 ? replace(format(datum.value, ','), ',', '.') : format(datum.value, 'd')"}},
              "color": {"field": "yr", "type": "nominal", "scale": {"domain": ["Baseline","2024","2025","2026"], "range": ["#666666","#8a8a8a","#f5c200","#1c45b2"]}},
              "strokeDash": {"field": "yr", "type": "nominal", "scale": {"domain": ["Baseline","2024","2025","2026"], "range": [[5,4],[1,0],[1,0],[1,0]]}}
            }}
          ]
        },
        {
          "title": "85+ years", "width": 985, "height": 198, "data": {"name": "a85"},
          "layer": [
            {"data": {"values": [{}]}, "mark": {"type": "rule", "color": "#e3e3e3"}, "encoding": {"x": {"datum": 52, "type": "quantitative", "axis": null}}},
            {"mark": "line", "encoding": {
              "x": {"field": "wk", "type": "quantitative", "scale": {"domain": [0, 52], "nice": false}, "axis": {"title": null, "values": [0,5,10,15,20,25,30,35,40,45,50]}},
              "y": {"field": "n", "type": "quantitative", "scale": {"domain": [-1996, 42000], "nice": false, "zero": false}, "axis": {"title": "Excess deaths", "titleX": -57, "values": [0,10000,20000,30000,40000], "labelExpr": "abs(datum.value) >= 10000 ? replace(format(datum.value, ','), ',', '.') : format(datum.value, 'd')"}},
              "color": {"field": "yr", "type": "nominal", "scale": {"domain": ["Baseline","2024","2025","2026"], "range": ["#666666","#8a8a8a","#f5c200","#1c45b2"]}},
              "strokeDash": {"field": "yr", "type": "nominal", "scale": {"domain": ["Baseline","2024","2025","2026"], "range": [[5,4],[1,0],[1,0],[1,0]]}}
            }}
          ]
        }
      ]
    }
  ]
}
